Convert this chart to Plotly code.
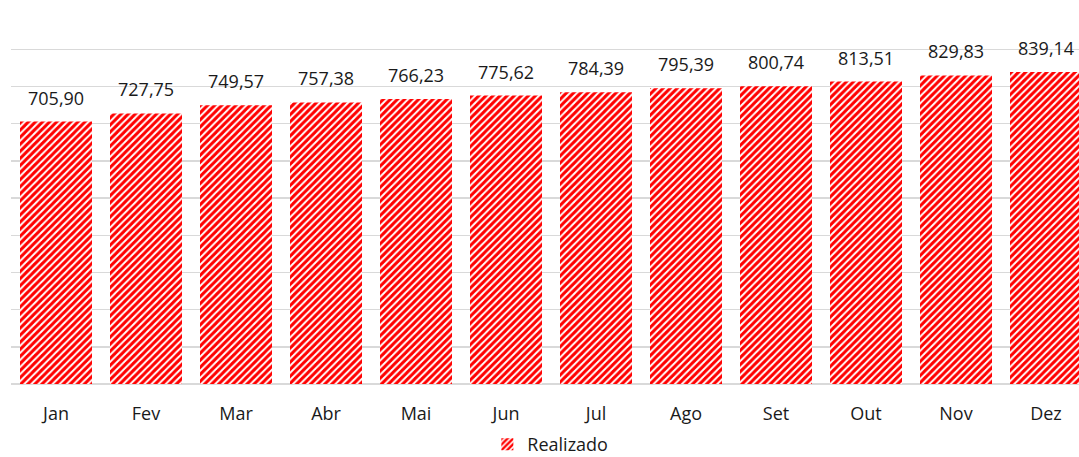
import plotly.graph_objects as go

months = ["Jan", "Fev", "Mar", "Abr", "Mai", "Jun", "Jul", "Ago", "Set", "Out", "Nov", "Dez"]
realizado = [705.90, 727.75, 749.57, 757.38, 766.23, 775.62, 784.39, 795.39, 800.74, 813.51, 829.83, 839.14]
series_name = "Realizado"

FONT = "Open Sans"
TXT = "#1a1a1a"

def fmt(v):
    return f"{v:,.2f}".replace(",", "X").replace(".", ",").replace("X", ".")

fig = go.Figure()
fig.add_trace(go.Bar(
    x=months, y=realizado, name=series_name,
    marker=dict(
        color="white",
        line=dict(width=0),
        pattern=dict(shape="/", fgcolor="#ff0000", bgcolor="white",
                     size=5, solidity=0.6, fillmode="replace"),
    ),
    showlegend=True,
    hoverinfo="skip",
))

for m, v in zip(months, realizado):
    fig.add_annotation(x=m, y=v, text=fmt(v), showarrow=False,
                       yanchor="bottom", yshift=10,
                       font=dict(family=FONT, size=18, color=TXT))

fig.update_layout(
    width=1079, height=457,
    margin=dict(l=11, r=0, t=12, b=73, autoexpand=False),
    paper_bgcolor="white", plot_bgcolor="white",
    bargap=0.2,
    font=dict(family=FONT, size=18, color=TXT),
    showlegend=True,
    legend=dict(orientation="h", x=0.505, xanchor="center",
                yref="container", y=0.027, yanchor="middle",
                font=dict(family=FONT, size=18, color=TXT),
                itemwidth=30, itemsizing="constant"),
    xaxis=dict(
        range=[-0.5, -0.5 + 1068 / 90], automargin=False,
        showgrid=False, showline=False, zeroline=False,
        ticks="outside", ticklen=13, tickcolor="rgba(0,0,0,0)",
        tickfont=dict(family=FONT, size=18, color=TXT),
        fixedrange=True,
    ),
    yaxis=dict(
        range=[0, 1000.5], dtick=100, automargin=False,
        showgrid=True, gridcolor="#d9d9d9", gridwidth=1.5,
        zeroline=True, zerolinecolor="#d9d9d9", zerolinewidth=1.5,
        showticklabels=False, showline=False, fixedrange=True,
    ),
)

fig.write_html(
    "out.html",
    config={"displayModeBar": False, "staticPlot": True},
    post_script="document.body.style.margin='0';document.body.style.overflow='hidden';",
)
